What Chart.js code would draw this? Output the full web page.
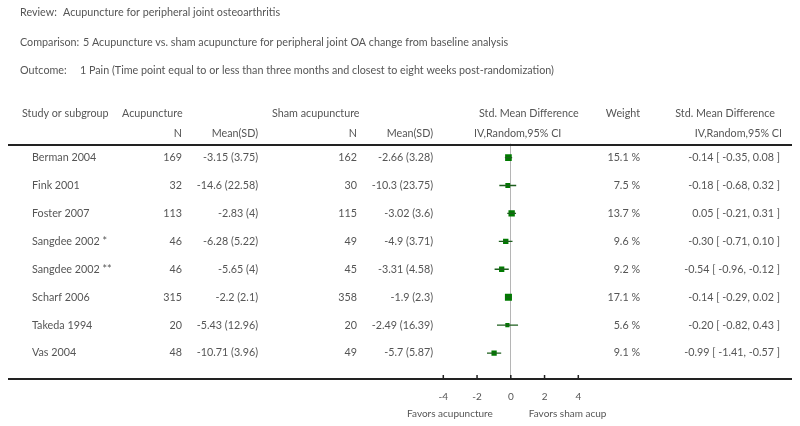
<!DOCTYPE html>
<html>
<head>
<meta charset="utf-8">
<script src="https://cdn.jsdelivr.net/npm/chart.js@4"></script>
<style>
  html, body { margin: 0; padding: 0; background: #fff; }
  #wrap { width: 800px; height: 426px; position: relative; }
</style>
</head>
<body>
<div id="wrap"><canvas id="forest"></canvas></div>
<script>
// data
const studies = ['Berman 2004', 'Fink 2001', 'Foster 2007', 'Sangdee 2002 *', 'Sangdee 2002 **', 'Scharf 2006', 'Takeda 1994', 'Vas 2004'];
const acupN = [169, 32, 113, 46, 46, 315, 20, 48];
const acupMean = [-3.15, -14.6, -2.83, -6.28, -5.65, -2.2, -5.43, -10.71];
const acupSD = [3.75, 22.58, 4, 5.22, 4, 2.1, 12.96, 3.96];
const shamN = [162, 30, 115, 49, 45, 358, 20, 49];
const shamMean = [-2.66, -10.3, -3.02, -4.9, -3.31, -1.9, -2.49, -5.7];
const shamSD = [3.28, 23.75, 3.6, 3.71, 4.58, 2.3, 16.39, 5.87];
const weight = [15.1, 7.5, 13.7, 9.6, 9.2, 17.1, 5.6, 9.1];
const smd = [-0.14, -0.18, 0.05, -0.30, -0.54, -0.14, -0.20, -0.99];
const ciLow = [-0.35, -0.68, -0.21, -0.71, -0.96, -0.29, -0.82, -1.41];
const ciHigh = [0.08, 0.32, 0.31, 0.10, -0.12, 0.02, 0.43, -0.57];
const xTicks = [-4, -2, 0, 2, 4];

const FONT = 'Lato, "Open Sans", sans-serif';
const TXT = '#555';
const GREEN = '#007a00';

// one line dataset per confidence interval
const ciSets = studies.map((s, i) => ({
  data: [{x: ciLow[i], y: i}, {x: ciHigh[i], y: i}],
  showLine: true,
  borderColor: '#1d5e1d',
  borderWidth: 1.3,
  pointRadius: 0
}));

const pointSet = {
  data: studies.map((s, i) => ({x: smd[i], y: i})),
  pointStyle: 'rect',
  pointRadius: weight.map(w => 1.6 * Math.sqrt(w) / Math.SQRT2 + 0.3),
  backgroundColor: GREEN,
  borderColor: GREEN,
  borderWidth: 0
};

function txt(ctx, s, x, y, align) {
  ctx.textAlign = align || 'left';
  ctx.fillText(s, x, y);
}

// table text, rules and axis ticks
const tablePlugin = {
  id: 'table',
  beforeDraw(chart) {
    const ctx = chart.ctx;
    ctx.save();
    ctx.fillStyle = '#fff';
    ctx.fillRect(0, 0, chart.width, chart.height);
    ctx.restore();
  },
  afterDraw(chart) {
    const ctx = chart.ctx;
    const xs = chart.scales.x;
    const ys = chart.scales.y;
    const area = chart.chartArea;
    ctx.save();
    ctx.fillStyle = TXT;
    ctx.textBaseline = 'middle';
    ctx.font = '10.75px ' + FONT;

    txt(ctx, 'Review:', 20, 13);
    txt(ctx, 'Acupuncture for peripheral joint osteoarthritis', 63, 13);
    txt(ctx, 'Comparison:', 20, 43);
    txt(ctx, '5 Acupuncture vs. sham acupuncture for peripheral joint OA change from baseline analysis', 83, 43);
    txt(ctx, 'Outcome:', 20, 71);
    txt(ctx, '1 Pain (Time point equal to or less than three months and closest to eight weeks post-randomization)', 80, 71);

    // column headers
    txt(ctx, 'Study or subgroup', 22, 114);
    txt(ctx, 'Acupuncture', 122, 114);
    txt(ctx, 'N', 182, 134, 'right');
    txt(ctx, 'Mean(SD)', 258, 134, 'right');
    txt(ctx, 'Sham acupuncture', 272, 114);
    txt(ctx, 'N', 357, 134, 'right');
    txt(ctx, 'Mean(SD)', 433, 134, 'right');
    txt(ctx, 'Std. Mean Difference', 479, 114);
    txt(ctx, 'IV,Random,95% CI', 474, 134);
    txt(ctx, 'Weight', 640, 114, 'right');
    txt(ctx, 'Std. Mean Difference', 775, 114, 'right');
    txt(ctx, 'IV,Random,95% CI', 782, 134, 'right');

    // rows
    studies.forEach((s, i) => {
      const y = ys.getPixelForValue(i);
      txt(ctx, s, 32, y);
      txt(ctx, String(acupN[i]), 182, y, 'right');
      txt(ctx, acupMean[i] + ' (' + acupSD[i] + ')', 258, y, 'right');
      txt(ctx, String(shamN[i]), 357, y, 'right');
      txt(ctx, shamMean[i] + ' (' + shamSD[i] + ')', 433, y, 'right');
      txt(ctx, weight[i].toFixed(1) + ' %', 640, y, 'right');
      txt(ctx, smd[i].toFixed(2) + ' [ ' + ciLow[i].toFixed(2) + ', ' + ciHigh[i].toFixed(2) + ' ]', 780, y, 'right');
    });

    // horizontal rules
    ctx.strokeStyle = '#222';
    ctx.lineWidth = 2;
    ctx.beginPath();
    ctx.moveTo(8, 145); ctx.lineTo(792, 145);
    ctx.moveTo(8, area.bottom); ctx.lineTo(792, area.bottom);
    ctx.stroke();

    // tick marks pointing up from the axis rule
    ctx.lineWidth = 1.5;
    ctx.beginPath();
    xTicks.forEach(v => {
      const px = xs.getPixelForValue(v);
      ctx.moveTo(px, area.bottom - 4);
      ctx.lineTo(px, area.bottom);
    });
    ctx.stroke();

    // favours labels
    ctx.font = '10px ' + FONT;
    ctx.fillStyle = '#555';
    const zero = xs.getPixelForValue(0);
    txt(ctx, 'Favors acupuncture', zero - 18, 414, 'right');
    txt(ctx, 'Favors sham acup', zero + 18, 414, 'left');
    ctx.restore();
  }
};

new Chart(document.getElementById('forest'), {
  type: 'scatter',
  data: { datasets: [...ciSets, pointSet] },
  options: {
    responsive: true,
    maintainAspectRatio: false,
    animation: false,
    layout: { padding: { left: 443.3, right: 221.7, top: 143.6, bottom: 11 } },
    plugins: {
      legend: { display: false },
      tooltip: { enabled: false }
    },
    scales: {
      x: {
        type: 'linear',
        min: -4,
        max: 4,
        afterBuildTicks: axis => { axis.ticks = xTicks.map(v => ({ value: v })); },
        grid: {
          drawTicks: false,
          color: c => (c.tick && c.tick.value === 0) ? '#b5b5b5' : 'rgba(0,0,0,0)',
          lineWidth: 1
        },
        border: { display: false },
        ticks: { color: '#555', font: { size: 10, family: FONT }, padding: 12 }
      },
      y: {
        type: 'linear',
        display: false,
        reverse: true,
        min: -0.5,
        max: 7.93
      }
    }
  },
  plugins: [tablePlugin]
});
</script>
</body>
</html>
